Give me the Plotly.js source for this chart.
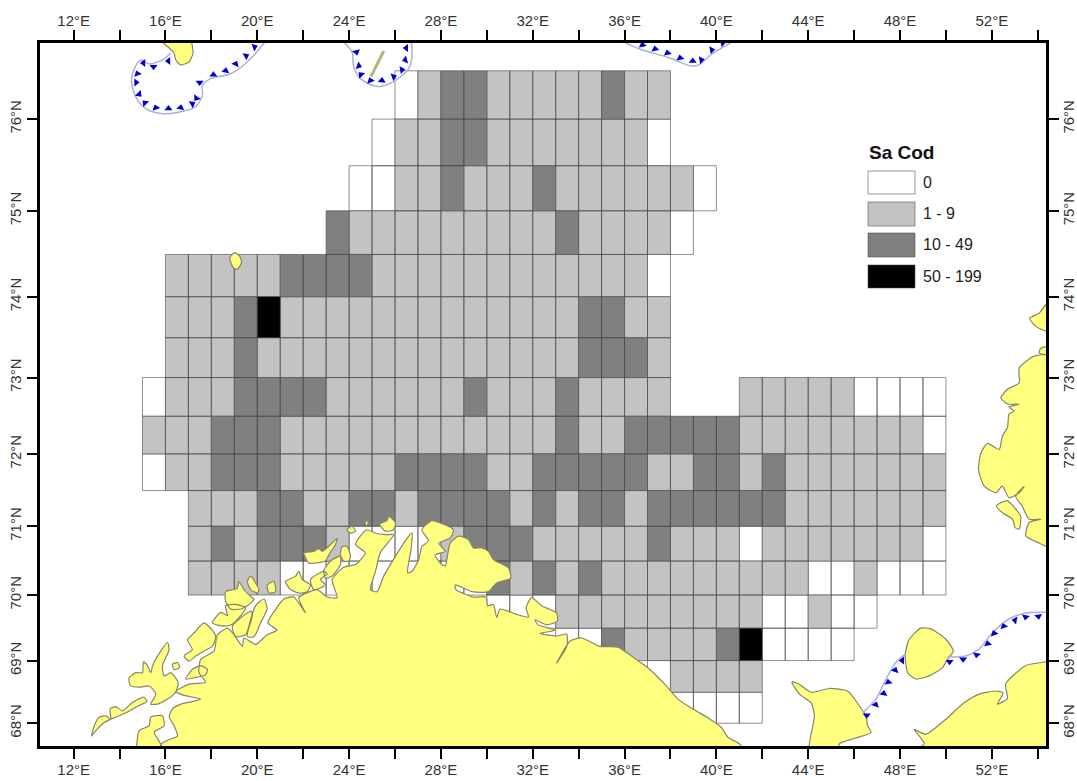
<!DOCTYPE html>
<html>
<head>
<meta charset="utf-8">
<script src="https://cdn.plot.ly/plotly-3.0.1.min.js"></script>
<style>html,body{margin:0;padding:0;background:#fff}</style>
</head>
<body>
<div id="chart" style="width:1077px;height:781px"></div>
<script>
// Survey cells: one row per 0.5 degree latitude band, cells are 1 degree of longitude.
// Codes: 0 => class "0", 1 => "1 - 9", 2 => "10 - 49", 3 => "50 - 199", . => no cell (spaces only group the reading)
const rowLat = [76, 75.5, 75, 74.5, 74, 73.5, 73, 72.5, 72, 71.5, 71, 70.5, 70, 69.5, 69, 68.5, 68];
const rowStartLon = [26, 25, 24, 23, 16, 16, 16, 15, 15, 15, 17, 17, 17, 30, 33, 37, 38];
const rowCodes = [
  "0 1 22 11111 2 11",
  "0 11 22 1111111 0",
  "00 11 2 111 2 111111 0",
  "2 111111111 2 1111 0",
  "11111 2222 111111111111 0",
  "111 2 3 1111111111111 22 11",
  "111 2 11111111111111 222 1",
  "0 111 2222 111111 2 111 2 1111 ... 11111 0000",
  "111 222 111111111111 2 11 22222 11111111 0",
  "0 11 222 11111 2222 11 22222 11 22 1 2 1111111",
  "111 22 11 22 1 2222 1 2 1 22 1 222222 1111111",
  "1 2 1 222 1 0000 1 222 11111 2 111 0 1111111 0",
  "1111 000000000 2 1 2 1 2 111111111 00 1 000",
  "000 111111111 00 1 00",
  "00 2 1111 2 3 0000",
  "0 1111",
  "0000"
];

const classNames = ["0", "1 - 9", "10 - 49", "50 - 199"];
const classFill = ["#ffffff", "#c3c3c3", "#808080", "#000000"];
const legendTitle = "Sa Cod";

const lonTicks = [12,14,16,18,20,22,24,26,28,30,32,34,36,38,40,42,44,46,48,50,52,54];
const lonLabels = ["12°E","","16°E","","20°E","","24°E","","28°E","","32°E","","36°E","","40°E","","44°E","","48°E","","52°E",""];
const latTicks = [68,69,70,71,72,73,74,75,76];
const latLabels = ["68°N","69°N","70°N","71°N","72°N","73°N","74°N","75°N","76°N"];

// Coast polygons as [lon, lat]
const mainland = [[15.8,67.5],[15.8,67.65],[16.09,67.72],[16.52,67.79],[16.38,67.96],[16.16,68.10],[16.3,68.23],[16.67,68.31],[17.17,68.35],[17.54,68.39],[16.81,68.45],[16.45,68.51],[17.03,68.63],[17.75,68.66],[17.46,68.81],[17.54,69.02],[18.12,69.15],[18.26,69.4],[18.7,69.5],[18.99,69.4],[19.35,69.22],[19.42,69.35],[19.93,69.25],[20.43,69.4],[20.87,69.47],[20.46,69.58],[20.87,69.82],[21.16,69.94],[21.59,69.97],[22.1,69.73],[21.81,69.96],[22.61,70.08],[23.04,69.97],[23.48,69.96],[23.26,70.23],[23.77,70.41],[24.28,70.45],[24.71,70.62],[24.28,70.74],[24.49,70.86],[24.78,70.95],[25.15,70.9],[25.58,70.88],[25.94,70.88],[25.36,70.62],[25.15,70.35],[24.93,70.08],[25.22,70.05],[25.51,70.28],[26.02,70.57],[26.38,70.76],[26.74,70.91],[26.7,70.67],[26.55,70.33],[26.74,70.35],[27.03,70.52],[27.17,70.71],[27.46,70.79],[27.17,70.95],[27.61,71.08],[28.11,71.03],[28.55,70.95],[28.4,70.83],[27.9,70.76],[28.19,70.64],[27.75,70.59],[28.04,70.45],[28.19,70.43],[28.4,70.76],[28.77,70.86],[29.2,70.81],[29.42,70.69],[29.78,70.69],[30.07,70.64],[30.29,70.52],[30.94,70.4],[31.04,70.25],[30.43,70.18],[30.07,70.05],[29.35,70.05],[28.62,70.15],[28.66,70.08],[29.42,69.97],[29.97,69.97],[30.03,69.84],[30.29,69.86],[30.43,69.66],[30.58,69.79],[31.3,69.71],[31.81,69.67],[31.71,69.81],[31.95,69.96],[32.39,69.84],[33.04,69.73],[33.07,69.61],[32.61,69.55],[32.1,69.63],[32.24,69.55],[32.97,69.47],[32.32,69.42],[33.04,69.38],[33.48,69.41],[33.48,69.22],[33.04,68.96],[33.62,69.3],[34.13,69.35],[34.93,69.22],[35.72,69.21],[36.38,69.05],[37.1,68.86],[37.82,68.6],[38.33,68.39],[38.98,68.23],[39.71,68.07],[40.22,67.93],[40.5,67.77],[41.01,67.66],[41.3,67.5]];
const lofoten = [[12.78,67.79],[12.90,67.96],[13.12,68.10],[13.41,68.12],[13.62,68.06],[13.59,68.23],[13.84,68.27],[14.13,68.20],[14.57,68.34],[15.07,68.42],[15.19,68.35],[14.86,68.29],[14.28,68.17],[13.84,68.10],[13.33,68.01],[12.97,67.88]];
const vesteralen = [[14.42,68.73],[14.71,68.81],[15.0,68.81],[15.04,68.98],[15.22,68.92],[15.36,68.81],[15.44,68.92],[15.80,69.15],[16.09,69.28],[16.16,69.17],[15.87,68.92],[15.94,68.76],[16.23,68.81],[16.55,68.66],[16.45,68.5],[16.09,68.39],[15.65,68.31],[15.36,68.31],[15.58,68.47],[15.29,68.6],[14.86,68.58],[14.46,68.61]];
const islandsNorway = [
  [[16.3,68.94],[16.52,68.97],[16.62,68.89],[16.38,68.86]],
  [[16.81,69.07],[17.17,69.17],[16.96,69.32],[17.25,69.43],[17.68,69.58],[18.04,69.47],[18.19,69.37],[18.04,69.22],[17.68,69.15],[17.32,69.07],[17.03,68.99]],
  [[16.88,68.71],[17.17,68.86],[17.54,68.92],[17.83,68.86],[17.75,68.78],[17.25,68.73]],
  [[14.75,67.5],[14.75,67.65],[14.86,67.88],[15.29,67.96],[15.36,68.10],[15.87,68.12],[15.94,67.96],[15.51,67.85],[15.8,67.65],[15.8,67.5]],
  [[18.62,70.05],[19.13,70.10],[19.2,70.20],[19.42,70.08],[19.71,69.98],[19.86,69.94],[19.57,69.84],[19.28,69.79],[18.84,69.79],[18.62,69.91]],
  [[19.57,70.20],[19.71,70.28],[20.07,70.08],[20.0,70.03],[19.71,70.08]],
  [[20.43,70.15],[20.72,70.20],[20.8,70.05],[20.51,70.03]],
  [[20.29,69.94],[20.43,69.79],[20.14,69.58],[19.86,69.37],[19.57,69.37],[19.71,69.63],[19.93,69.84]],
  [[18.04,69.58],[18.41,69.74],[18.7,69.69],[18.62,69.84],[19.06,69.86],[19.49,69.81],[19.28,69.69],[18.91,69.56],[18.55,69.53]],
  [[18.91,69.53],[19.28,69.66],[19.74,69.76],[19.78,69.69],[19.49,69.4],[19.06,69.37]],
  [[21.23,70.20],[21.67,70.28],[21.81,70.35],[21.96,70.23],[22.32,70.15],[22.17,70.05],[21.81,70.03],[21.45,70.08]],
  [[22.32,70.23],[22.9,70.35],[23.04,70.31],[22.75,70.23],[22.97,70.15],[22.46,70.08]],
  [[22.9,70.37],[23.26,70.52],[23.62,70.57],[23.62,70.45],[23.26,70.28],[22.97,70.25]],
  [[22.03,70.62],[22.46,70.64],[22.68,70.68],[22.83,70.64],[23.26,70.76],[23.48,70.83],[23.41,70.74],[23.12,70.59],[22.97,70.5],[22.25,70.47],[22.1,70.55]],
  [[23.7,70.71],[23.91,70.71],[24.06,70.57],[23.99,70.5],[23.77,70.5],[23.62,70.59]],
  [[23.91,70.95],[24.13,71.0],[24.28,70.93],[24.06,70.9]],
  [[24.71,71.06],[24.81,71.08],[24.83,71.03],[24.71,71.01]],
  [[25.33,71.03],[25.65,71.08],[25.73,71.14],[26.02,71.05],[25.94,70.95],[25.58,70.93]]
];
const kolguev = [[48.23,69.10],[48.4,69.33],[48.91,69.5],[49.34,69.49],[50.0,69.33],[50.32,69.15],[50.07,69.02],[49.85,68.89],[49.27,68.76],[48.69,68.71],[48.33,68.81]];
const kanin = [[43.29,68.66],[43.55,68.64],[44.13,68.5],[44.92,68.56],[45.72,68.52],[46.23,68.28],[46.52,68.12],[46.59,67.96],[46.74,67.85],[46.01,67.75],[45.36,67.66],[45.36,67.5],[44.05,67.5],[44.27,68.12],[44.13,68.33],[43.62,68.47]];
const nenets = [[48.55,67.5],[49.05,67.66],[48.84,67.79],[48.62,67.9],[49.13,67.82],[49.92,68.04],[50.79,68.33],[51.45,68.47],[52.17,68.52],[52.49,68.49],[52.24,68.31],[52.68,68.4],[52.6,68.63],[53.47,68.92],[54.34,68.98],[54.8,69],[54.8,67.5]];
const novayaZemlya = [
  [[54.6,73.91],[54.38,73.91],[54.06,73.8],[53.65,73.74],[53.91,73.64],[54.38,73.58],[54.6,73.58]],
  [[54.6,73.39],[54.38,73.39],[54.13,73.37],[54.06,73.31],[54.38,73.29],[54.6,73.29]],
  [[54.6,73.27],[53.84,73.27],[53.19,73.12],[53.19,72.93],[52.68,72.85],[52.39,72.74],[52.68,72.66],[53.19,72.66],[52.75,72.62],[52.97,72.57],[52.75,72.53],[52.68,72.35],[52.46,72.24],[52.32,72.06],[51.81,72.14],[51.52,72.01],[51.42,71.79],[51.67,71.56],[52.17,71.47],[52.46,71.56],[52.75,71.4],[53.19,71.47],[53.41,71.56],[53.04,71.42],[53.33,71.28],[53.62,71.1],[54.13,71.1],[53.62,71.05],[53.48,70.86],[54.06,70.76],[54.38,70.71],[54.6,70.71]],
  [[52.2,71.29],[52.68,71.36],[52.97,71.27],[53.26,71.14],[53.19,70.96],[53.01,70.98],[52.9,71.1],[52.46,71.19]]
];
const bjornoya = [[18.8,74.46],[19.01,74.52],[19.23,74.48],[19.32,74.41],[19.14,74.33],[18.97,74.34]];
const spitsbergenTip = [[15.87,76.85],[15.87,76.79],[16.16,76.73],[16.37,76.68],[16.45,76.61],[16.66,76.56],[17.03,76.59],[17.2,76.68],[17.03,76.85]];
const hopen = [[25.51,76.7],[25.22,76.57],[24.95,76.44]];

// Ice-front lines and their barbs [lon, lat, direction in degrees]
const frontLines = [
  [[16.23,76.68],[15.87,76.61],[15.29,76.57],[14.93,76.61],[14.64,76.52],[14.52,76.39],[14.71,76.23],[15.14,76.11],[15.8,76.06],[16.52,76.07],[17.32,76.13],[17.61,76.25],[17.61,76.35],[17.97,76.42],[18.84,76.47],[19.56,76.59],[20.29,76.78],[20.43,76.83]],
  [[23.8,76.78],[24.13,76.69],[24.2,76.54],[24.49,76.42],[25.22,76.34],[25.94,76.39],[26.59,76.52],[26.74,76.64],[26.69,76.85]],
  [[36.04,76.78],[36.78,76.71],[37.97,76.63],[38.87,76.55],[39.23,76.56],[39.75,76.66],[40.67,76.79]],
  [[46.37,68.17],[46.95,68.39],[47.39,68.71],[47.82,68.97],[48.23,69.10]],
  [[50.07,69.06],[50.87,69.07],[51.45,69.18],[52.03,69.43],[52.75,69.64],[53.47,69.73],[54.34,69.74],[54.63,69.74]]
];
const barbs = [
  [16.13,76.6,270],[15.48,76.54,180],[15.04,76.58,270],[14.78,76.47,340],[14.72,76.38,90],[14.85,76.26,135],[15.11,76.17,315],[15.58,76.12,340],[16.13,76.11,0],[16.66,76.12,10],[17.17,76.16,60],[17.35,76.22,215],[17.49,76.38,180],[18.09,76.46,0],[18.62,76.5,10],[19.06,76.57,25],[19.51,76.65,60],[19.88,76.74,70],
  [24.32,76.69,165],[24.42,76.55,110],[24.52,76.46,315],[24.93,76.4,340],[25.43,76.4,5],[25.94,76.44,70],[26.3,76.51,80],[26.45,76.61,255],[26.49,76.73,270],
  [36.78,76.76,350],[37.33,76.72,350],[37.87,76.68,350],[38.42,76.63,350],[38.97,76.6,0],[39.34,76.61,80],[39.8,76.71,80],[40.27,76.78,80],
  [46.55,68.13,180],[46.94,68.3,20],[47.29,68.48,10],[47.49,68.66,350],[47.79,68.85,20],[48.1,69.0,270],
  [50.16,68.98,180],[50.75,69.02,180],[51.34,69.09,190],[51.82,69.26,350],[52.1,69.42,340],[52.52,69.53,340],[53.01,69.62,280],[53.47,69.67,190],[54.03,69.68,170]
];

const merc = lat => Math.log(Math.tan(Math.PI/4 + lat*Math.PI/360));
const lonRange = [10.535, 54.36];
const latRange = [67.625, 76.78];

function cellPaths(code){
  const xs = [], ys = [];
  rowCodes.forEach((s, r) => {
    [...s.replace(/ /g, "")].forEach((c, i) => {
      if (c !== String(code)) return;
      const w = rowStartLon[r] + i, e = w + 1, la = rowLat[r], lb = la + 0.5;
      xs.push(w, e, e, w, w, null);
      ys.push(merc(la), merc(la), merc(lb), merc(lb), merc(la), null);
    });
  });
  return {x: xs, y: ys};
}
function polyPaths(list){
  const xs = [], ys = [];
  list.forEach(p => {
    p.forEach(q => { xs.push(q[0]); ys.push(merc(q[1])); });
    xs.push(p[0][0], null); ys.push(merc(p[0][1]), null);
  });
  return {x: xs, y: ys};
}
function linePaths(list){
  const xs = [], ys = [];
  list.forEach(p => {
    p.forEach(q => { xs.push(q[0]); ys.push(merc(q[1])); });
    xs.push(null); ys.push(null);
  });
  return {x: xs, y: ys};
}

const traces = [];
classNames.forEach((name, k) => {
  const p = cellPaths(k);
  traces.push({type:"scatter", mode:"lines", name, x:p.x, y:p.y, fill:"toself",
    fillcolor:classFill[k], line:{color:"rgba(70,70,70,0.6)", width:1}, hoverinfo:"name", showlegend:false});
});
const land = polyPaths([mainland, lofoten, vesteralen, ...islandsNorway, kolguev, kanin, nenets, ...novayaZemlya, bjornoya, spitsbergenTip]);
traces.push({type:"scatter", mode:"lines", name:"Land", x:land.x, y:land.y, fill:"toself",
  fillcolor:"#ffff80", line:{color:"#85856a", width:1.2, shape:"spline", smoothing:0.6}, hoverinfo:"skip", showlegend:false});
const hp = linePaths([hopen]);
traces.push({type:"scatter", mode:"lines", x:hp.x, y:hp.y, line:{color:"#b5b57a", width:3}, hoverinfo:"skip", showlegend:false});
const fl = linePaths(frontLines);
traces.push({type:"scatter", mode:"lines", x:fl.x, y:fl.y, line:{color:"#a9afe6", width:1.5, shape:"spline", smoothing:0.8}, hoverinfo:"skip", showlegend:false, connectgaps:false});
traces.push({type:"scatter", mode:"markers", x:barbs.map(b=>b[0]), y:barbs.map(b=>merc(b[1])),
  marker:{symbol:"triangle-up", size:7, color:"#0000cc", angle:barbs.map(b=>b[2])}, hoverinfo:"skip", showlegend:false});
// carrier for the mirrored top / right axes
traces.push({type:"scatter", mode:"markers", x:[lonTicks[0]], y:[merc(latTicks[0])], xaxis:"x2", yaxis:"y2",
  marker:{opacity:0}, hoverinfo:"skip", showlegend:false});

const W = 1077, H = 781, mL = 40, mR = 31, mT = 43, mB = 35;
const px = x => (x - mL) / (W - mL - mR);
const py = y => 1 - (y - mT) / (H - mT - mB);
const swatchTop = [171, 202, 233, 265], swatchBottom = [194, 226, 257, 288];
const shapes = classNames.map((n, k) => ({type:"rect", xref:"paper", yref:"paper",
  x0:px(868), x1:px(915), y0:py(swatchBottom[k]), y1:py(swatchTop[k]),
  fillcolor:classFill[k], line:{color:"rgba(70,70,70,0.55)", width:1}}));
const annotations = classNames.map((n, k) => ({xref:"paper", yref:"paper", x:px(921), y:py((swatchTop[k]+swatchBottom[k])/2),
  text:n, showarrow:false, xanchor:"left", yanchor:"middle", font:{family:"Liberation Sans, Arial, sans-serif", size:16, color:"#222"}}));
annotations.push({xref:"paper", yref:"paper", x:px(867), y:py(152), text:"<b>"+legendTitle+"</b>", showarrow:false,
  xanchor:"left", yanchor:"middle", font:{family:"Liberation Sans, Arial, sans-serif", size:19, color:"#111"}});

const tickFont = {family:"Liberation Sans, Arial, sans-serif", size:15, color:"#333"};
const xBase = {range:lonRange, tickmode:"array", tickvals:lonTicks, ticktext:lonLabels, ticks:"outside", ticklen:10, tickwidth:2,
  tickcolor:"#000", showline:true, linewidth:3, linecolor:"#000", showgrid:false, zeroline:false, tickfont:tickFont, tickangle:0, ticklabelstandoff:-2};
const yBase = {range:latRange.map(merc), tickmode:"array", tickvals:latTicks.map(merc), ticktext:latLabels, ticks:"outside", ticklen:10, tickwidth:2,
  tickcolor:"#000", showline:true, linewidth:3, linecolor:"#000", showgrid:false, zeroline:false, tickfont:tickFont, tickangle:-90};

const layout = {
  width:W, height:H, margin:{l:mL, r:mR, t:mT, b:mB, pad:0},
  paper_bgcolor:"#fff", plot_bgcolor:"#fff", showlegend:false, hovermode:false,
  xaxis:Object.assign({}, xBase, {side:"bottom", anchor:"y"}),
  yaxis:Object.assign({}, yBase, {side:"left", anchor:"x"}),
  xaxis2:Object.assign({}, xBase, {side:"top", overlaying:"x", anchor:"y2"}),
  yaxis2:Object.assign({}, yBase, {side:"right", overlaying:"y", anchor:"x2", ticklabelstandoff:-3}),
  shapes, annotations
};
Plotly.newPlot("chart", traces, layout, {displayModeBar:false, responsive:false});
</script>
</body>
</html>
